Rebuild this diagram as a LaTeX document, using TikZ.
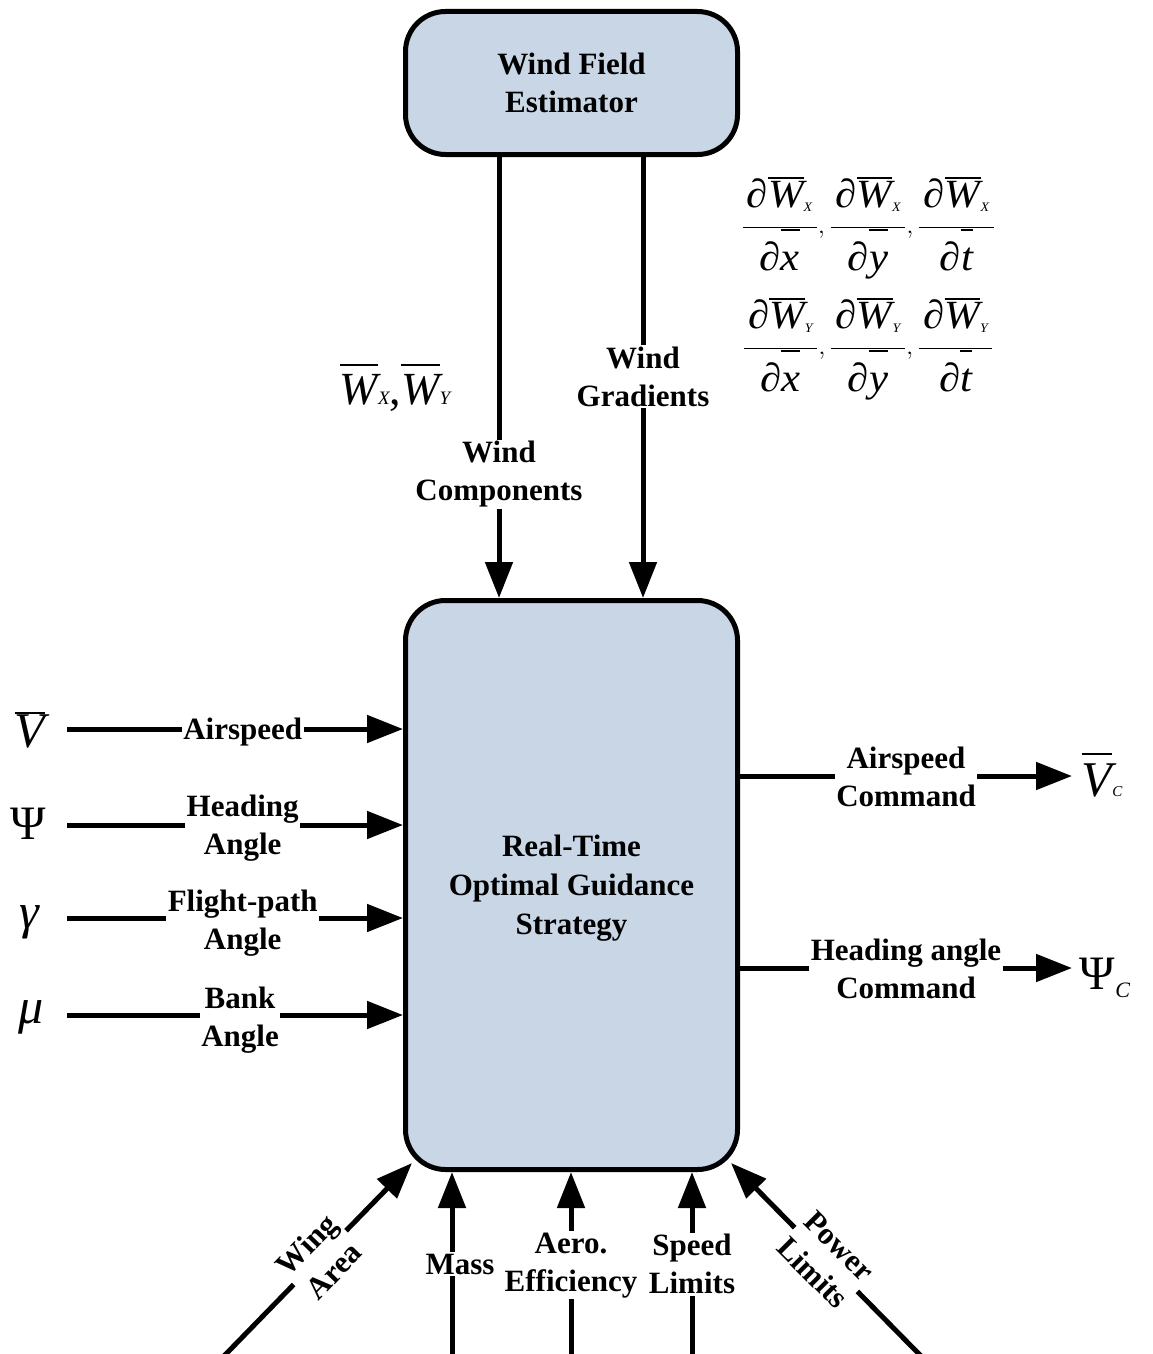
\documentclass[tikz,border=0pt]{standalone}
\usepackage{fontspec}
\usepackage{graphicx}
\setmainfont{Liberation Serif}
\usetikzlibrary{arrows.meta,calc}
\definecolor{boxfill}{RGB}{200,214,230}
\newcommand\mi[1]{\hbox{\itshape #1}}
% overline placed at a given height above the baseline
\newcommand\ob[2]{\vbox to #1{\hrule height 2pt\vfil\hbox{#2}}}
\newcommand\sm[2]{\hbox{\fontsize{#1}{#1}\selectfont\itshape #2}}
\newcommand\gf[2]{\displaystyle\frac{\,\mi{∂}\ob{30pt}{\itshape W}\lower4pt\sm{13}{#1}\,\rule[-19pt]{0pt}{0pt}}{\mi{∂}\ob{41pt}{\itshape #2}}}
\begin{document}
\begin{tikzpicture}[x=1pt,y=-1pt,
  blk/.style={draw, line width=5pt, fill=boxfill, rounded corners=40pt, align=center,
    font=\bfseries\fontsize{31}{38.5}\selectfont},
  lab/.style={fill=white, inner sep=1.5pt, align=center,
    font=\bfseries\fontsize{31}{38}\selectfont},
  arr/.style={line width=5pt, -{Triangle[length=36pt,width=27pt]}},
  sym/.style={inner sep=0pt, font=\fontsize{50}{50}\selectfont},
  grad/.style={inner sep=0pt, font=\fontsize{40}{44}\selectfont}]
\useasboundingbox (0,0) rectangle (1152,1354);
% boxes
\node[blk, minimum width=332pt, minimum height=143pt] (wfe) at (571.5,83) {Wind Field\\Estimator};
\node[blk, minimum width=332pt, minimum height=569pt] (main) at (571.5,885) {\raisebox{-3pt}[\height][\depth]{\begin{tabular}{@{}c@{}}Real-Time\\[0.5pt]Optimal Guidance\\[0.5pt]Strategy\end{tabular}}};
% wind connectors
\draw[arr] ($(wfe.south)+(-72.5,0)$) coordinate (a1) -- node[lab,pos=.719]{Wind\\Components} (a1 |- main.north);
\draw[arr] ($(wfe.south)+(71.5,0)$) coordinate (a2) -- node[lab,pos=.498]{Wind\\Gradients} (a2 |- main.north);
\node[sym, font=\fontsize{46}{46}\selectfont] (wxy) at (395,388)
  {\ob{40pt}{\itshape W}\sm{19}{X},\ob{40pt}{\itshape W}\sm{19}{Y}};
\node[grad] (g1) at (868,228) {\scalebox{1.07}[1]{$\gf{X}{x},\gf{X}{y},\gf{X}{t}$}};
\node[grad] (g2) at (868,349) {\scalebox{1.07}[1]{$\gf{Y}{x},\gf{Y}{y},\gf{Y}{t}$}};
% left inputs
\node[sym] (sV) at (30,730) {\ob{36pt}{\itshape V}};
\node[sym, font=\fontsize{48}{48}\selectfont] (sP) at (28,824) {Ψ};
\node[sym] (sG) at (29,922) {\itshape γ};
\node[sym] (sM) at (31,1017) {\itshape μ};
\coordinate (iV) at (67,729);
\coordinate (iP) at (67,825);
\coordinate (iG) at (67,918);
\coordinate (iM) at (67,1015);
\draw[arr] (iV) -- node[lab,pos=.523,yshift=-3pt]{Airspeed} (iV -| main.west);
\draw[arr] (iP) -- node[lab,pos=.523,yshift=-3pt]{Heading\\Angle} (iP -| main.west);
\draw[arr] (iG) -- node[lab,pos=.523,yshift=-5pt]{Flight-path\\Angle} (iG -| main.west);
\draw[arr] (iM) -- node[lab,pos=.515,yshift=-5pt]{Bank\\Angle} (iM -| main.west);
% right outputs
\coordinate (oV) at (1072,776);
\coordinate (oP) at (1072,968);
\draw[arr] (oV -| main.east) -- node[lab,pos=.5,yshift=-1pt]{Airspeed\\Command} (oV);
\draw[arr] (oP -| main.east) -- node[lab,pos=.5,yshift=-1pt]{Heading angle\\Command} (oP);
\node[sym] (sVC) at (1102,775) {\ob{44pt}{\itshape V}\sm{15}{C}};
\node[sym, font=\fontsize{48}{48}\selectfont] (sPC) at (1105,978) {Ψ\lower8pt\sm{22}{C}};
% bottom inputs
\coordinate (bW) at (224,1356);
\coordinate (bM) at (452,1358);
\coordinate (bA) at (571,1358);
\coordinate (bS) at (692,1358);
\coordinate (bP) at (921,1356);
\draw[arr] (bW) -- node[lab,pos=.51,rotate=46]{Wing\\Area} ($(main.south west)+(9,-9)$);
\draw[arr] (bM) -- node[lab,pos=.504,xshift=8pt]{Mass} (bM |- main.south);
\draw[arr] (bA) -- node[lab,pos=.504,yshift=-1pt]{Aero.\\Efficiency} (bA |- main.south);
\draw[arr] (bS) -- node[lab,pos=.504]{Speed\\Limits} (bS |- main.south);
\draw[arr] (bP) -- node[lab,pos=.5,rotate=-45]{Power\\Limits} ($(main.south east)+(-9,-9)$);
\end{tikzpicture}
\end{document}
